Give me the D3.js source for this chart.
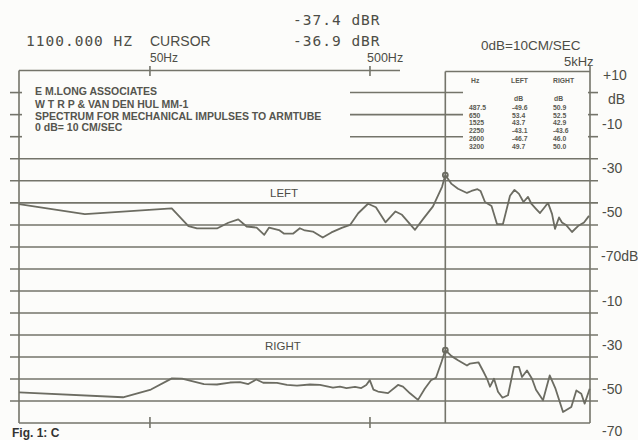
<!DOCTYPE html>
<html><head><meta charset="utf-8">
<script src="https://cdn.jsdelivr.net/npm/d3@7"></script>
<style>
body{margin:0;background:#fcfcfa;}
svg{display:block;}
</style>
</head><body>
<svg id="chart" width="638" height="440"></svg>
<script>
// ---------- data ----------
const leftFreq = [12.7,25.3,62.8,74.8,81.8,100.8,113.5,126,137.5,152.7,165.4,174,193,203,224,240,253,275,305,334,372,406,442,490,532,588,653,699,801,880,967,1063,1100,1174,1256,1380,1446,1540,1590,1666,1784,1889,2011,2165,2269,2378,2493,2613,2711,2841,2963,3090,3222,3360,3466,3615,3730,3890,4141,4410,4695,4948];
const leftDb = [-50.6,-55.1,-52.5,-60.5,-61.6,-61.6,-59.0,-57.5,-60.7,-61.2,-64.5,-61.2,-62.3,-63.9,-63.9,-61.5,-62.5,-63.0,-65.7,-63.4,-61.3,-60.0,-54.7,-50.4,-52.0,-58.8,-53.9,-55.4,-62.2,-56.8,-51.6,-42.7,-37.4,-41.4,-43.6,-45.5,-44.6,-43.8,-44.6,-49.6,-51.4,-59.6,-59.6,-46.8,-44.1,-45.9,-49.6,-47.3,-50.5,-52.7,-54.6,-52.3,-50.0,-55.0,-61.8,-56.6,-58.9,-60.0,-63.2,-60.5,-58.9,-55.9];
const rightFreq = [12.7,37.7,50.5,62.9,69.9,88,100.8,115.5,128.3,139.9,152.1,163.6,188.9,209.7,233,266.8,296.3,339.4,365.2,391,427.5,456.5,481,499,518.5,543.7,603.7,670.5,706,759.8,826.5,887,947,997.6,1057,1100,1174,1256,1380,1424,1556,1640,1702,1756,1831,1909,2001,2120,2256,2378,2454,2586,2725,2841,3058,3280,3485,3770,4111,4334,4565,4728,4984];
const rightDb = [-56.1,-58.3,-54.8,-49.7,-49.8,-52.3,-52.5,-51.6,-51.4,-52.3,-50.2,-51.7,-51.8,-52.7,-53,-52.5,-52.7,-53.9,-53.5,-54.1,-53.6,-54.1,-52.7,-50.5,-54.8,-55.7,-56.4,-52.7,-53.5,-56.5,-59.5,-54.4,-50.6,-49.4,-42.3,-36.9,-39.6,-41.5,-43.9,-43.0,-42.4,-46.7,-49.9,-53.5,-49.9,-55.8,-58.5,-57.4,-44.5,-44.5,-49.1,-46.1,-49.9,-54.9,-59.7,-48.4,-54.4,-65.0,-62.7,-55.2,-56.7,-61.2,-54.4];

const gridDb = [0,-10,-20,-30,-40,-50,-60];
const topLabelDb = [10,0,-10,-30,-50,-70];
const topLabels = ["+10","dB","-10","-30","-50","-70dB"];
const bottomLabelDb = [-10,-30,-50,-70];
const bottomLabels = ["-10","-30","-50","-70"];
const freqTicks = [50,500,5000];
const freqTickLabels = ["50Hz","500Hz","5kHz"];
const cursorFreq = 1100;
const cursorLeftDb = -37.4, cursorRightDb = -36.9;
const headerMono = ["1100.000 HZ","-37.4 dBR","-36.9 dBR"];
const noteLines = ["E M.LONG ASSOCIATES","W T R P & VAN DEN HUL MM-1","SPECTRUM FOR MECHANICAL IMPULSES TO ARMTUBE","0 dB= 10 CM/SEC"];
const tableHz = ["487.5","650","1525","2250","2600","3200"];
const tableLeft = ["-49.6","53.4","43.7","-43.1","-46.7","49.7"];
const tableRight = ["50.9","52.5","42.9","-43.6","46.0","50.0"];
const caption = "Fig. 1: C";

// ---------- layout ----------
const INK = "#74746a", TXT = "#4d4d46";
const svg = d3.select("#chart");
svg.append("rect").attr("width",638).attr("height",440).attr("fill","#fcfcfa");

const x = d3.scaleLog().domain([12.7, 5000]).range([19, 590]);
const yTop = d3.scaleLinear().domain([10, -70]).range([70.5, 247]);
const yBot = d3.scaleLinear().domain([10, -70]).range([247, 423]);
const xL = 19, xR = 590, xC = x(cursorFreq);

const g = svg.append("g").attr("stroke", INK).attr("fill","none").attr("stroke-width",1.6);

// grid lines: upper panel
gridDb.forEach(d => {
  const yy = yTop(d);
  if (d > -30) {
    g.append("line").attr("x1",10).attr("x2",xL+3).attr("y1",yy).attr("y2",yy);
    g.append("line").attr("x1",350).attr("x2",463).attr("y1",yy).attr("y2",yy);
    g.append("line").attr("x1",xR-2).attr("x2",598).attr("y1",yy).attr("y2",yy);
  } else {
    g.append("line").attr("x1",10).attr("x2",598).attr("y1",yy).attr("y2",yy);
  }
});
// panel separator and lower grid
g.append("line").attr("x1",10).attr("x2",598).attr("y1",yTop(-70)).attr("y2",yTop(-70));
gridDb.forEach(d => {
  const yy = yBot(d);
  g.append("line").attr("x1",10).attr("x2",598).attr("y1",yy).attr("y2",yy);
});

// frame
g.append("line").attr("x1",xL).attr("x2",400).attr("y1",70.5).attr("y2",70.5);
g.append("line").attr("x1",xC).attr("x2",xR).attr("y1",71.5).attr("y2",71.5);
g.append("line").attr("x1",xL).attr("x2",xL).attr("y1",70.5).attr("y2",423);
g.append("line").attr("x1",xR).attr("x2",xR).attr("y1",66).attr("y2",423);
g.append("line").attr("x1",xL).attr("x2",xR).attr("y1",423).attr("y2",423);
g.append("line").attr("x1",xC).attr("x2",xC).attr("y1",71.5).attr("y2",423);
// freq ticks
freqTicks.slice(0,2).forEach(f => {
  g.append("line").attr("x1",x(f)).attr("x2",x(f)).attr("y1",66).attr("y2",76);
  g.append("line").attr("x1",x(f)).attr("x2",x(f)).attr("y1",417).attr("y2",428);
});

// curves
const lineTop = d3.line().x(d => x(d[0])).y(d => yTop(d[1]));
const lineBot = d3.line().x(d => x(d[0])).y(d => yBot(d[1]));
const curve = svg.append("g").attr("fill","none").attr("stroke","#6c6c62").attr("stroke-width",1.8).attr("stroke-linejoin","round");
curve.append("path").attr("d", lineTop(d3.zip(leftFreq, leftDb)));
curve.append("path").attr("d", lineBot(d3.zip(rightFreq, rightDb)));
curve.append("circle").attr("cx",xC).attr("cy",yTop(cursorLeftDb)).attr("r",2.5);
curve.append("circle").attr("cx",xC).attr("cy",yBot(cursorRightDb)).attr("r",2.5);

// ---------- text ----------
const T = svg.append("g").attr("fill",TXT).attr("font-family","'Liberation Sans', Arial, sans-serif");
const mono = {"font-family":"'DejaVu Sans Mono', monospace","font-size":"14.5px","letter-spacing":"1px"};
function mtext(s, xx, yy){ const t=T.append("text").attr("x",xx).attr("y",yy).text(s); Object.entries(mono).forEach(([k,v])=>t.attr(k,v)); return t; }
mtext(headerMono[0], 26, 45.5);
mtext(headerMono[1], 293, 25);
mtext(headerMono[2], 293, 45.5);
T.append("text").attr("x",150).attr("y",45.5).attr("font-size","14px").text("CURSOR");
T.append("text").attr("x",481).attr("y",50).attr("font-size","13.5px").text("0dB=10CM/SEC");
const tickLabX = [150, 367, 564], tickLabY = [62, 62, 66], tickLabFs = [12,12.5,13];
freqTickLabels.forEach((s,i) => T.append("text").attr("x",tickLabX[i]).attr("y",tickLabY[i]).attr("font-size",tickLabFs[i]+"px").text(s));

// right axis labels
const topLabX = [603,608,602,602,602,601];
topLabels.forEach((s,i) => T.append("text").attr("x",topLabX[i]).attr("y",yTop(topLabelDb[i]) + (i===0?9.5:(i===1?11:14))).attr("font-size","14px").text(s));
bottomLabels.forEach((s,i) => T.append("text").attr("x",602).attr("y",yBot(bottomLabelDb[i]) + (i===3?13:15)).attr("font-size","14px").text(s));

// panel names
T.append("text").attr("x",270).attr("y",196.5).attr("font-size","11.5px").text("LEFT");
T.append("text").attr("x",265).attr("y",350).attr("font-size","11.5px").text("RIGHT");

// notes block
const noteY = [95, 108, 119.5, 131];
noteLines.forEach((s,i) => T.append("text").attr("x",35).attr("y",noteY[i]).attr("font-size","10.5px").attr("font-weight","bold").attr("fill","#55554e").text(s));

// table
const tb = T.append("g").attr("font-size","6.8px").attr("font-weight","bold").attr("fill","#5a5a52");
tb.append("text").attr("x",471).attr("y",83).text("Hz");
tb.append("text").attr("x",511).attr("y",83).text("LEFT");
tb.append("text").attr("x",553).attr("y",83).text("RIGHT");
tb.append("text").attr("x",514).attr("y",101).text("dB");
tb.append("text").attr("x",554).attr("y",101).text("dB");
tableHz.forEach((s,i) => {
  const yy = 110 + i*7.7;
  tb.append("text").attr("x",469).attr("y",yy).text(s);
  tb.append("text").attr("x",512).attr("y",yy).text(tableLeft[i]);
  tb.append("text").attr("x",553).attr("y",yy).text(tableRight[i]);
});

// caption (at the bottom edge)
T.append("text").attr("x",12).attr("y",437).attr("font-size","12px").attr("font-weight","bold").attr("fill","#333").text(caption);
</script>
</body></html>
